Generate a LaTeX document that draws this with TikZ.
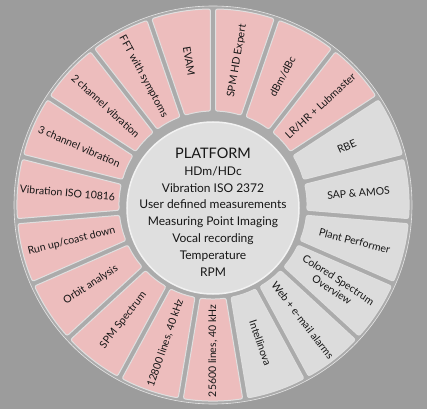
\documentclass[tikz,border=0pt]{standalone}
\usepackage{fontspec}
\setmainfont{Lato}
\usetikzlibrary{positioning}
\definecolor{wheelBg}{HTML}{9C9C9C}
\definecolor{wheelPink}{HTML}{EDBDBD}
\definecolor{wheelGrey}{HTML}{DCDCDC}
\definecolor{wheelGap}{HTML}{ABABAB}
\definecolor{wheelText}{HTML}{161616}

\begin{document}
\begin{tikzpicture}[x=1pt, y=1pt,
    seg/.style={draw=white!75!gray, line width=1pt, rounded corners=2pt},
    segtext/.style={font=\fontsize{10.5}{12}\selectfont, text=wheelText,
      align=center, inner sep=1pt},
    hub/.style={circle, draw=white!90!gray, line width=1.5pt, fill=wheelGrey!90!white,
      minimum size=172pt, inner sep=0pt},
    hubtext/.style={align=center, text=wheelText, font=\fontsize{12}{16.8}\selectfont}]
  \useasboundingbox[fill=wheelBg] (-213,-204) rectangle (214,205);
  % ring behind the segments
  \fill[wheelGap] (0,0) circle (199);
  \draw[white!80!gray, line width=0.6pt] (0,0) circle (199);
  \foreach \i/\txt/\col in {1/SPM HD Expert/wheelPink, 2/{dBm/dBc}/wheelPink,
      3/{LR/HR + Lubmaster}/wheelPink, 4/RBE/wheelGrey, 5/SAP \& AMOS/wheelGrey,
      6/Plant Performer/wheelGrey, 7/{Colored Spectrum\\Overview}/wheelGrey,
      8/Web + e-mail alarms/wheelGrey, 9/Intellinova/wheelGrey,
      10/{25600 lines, 40 kHz}/wheelPink, 11/{12800 lines, 40 kHz}/wheelPink,
      12/SPM Spectrum/wheelPink, 13/Orbit analysis/wheelPink,
      14/{Run up/coast down}/wheelPink, 15/Vibration ISO 10816/wheelPink,
      16/3 channel vibration/wheelPink, 17/2 channel vibration/wheelPink,
      18/FFT with symptoms/wheelPink, 19/EVAM/wheelPink}{
    \pgfmathsetmacro\oa{90-360/19*(\i-1)-0.75}
    \pgfmathsetmacro\ob{90-360/19*\i+0.75}
    \pgfmathsetmacro\ia{90-360/19*(\i-1)-1.55}
    \pgfmathsetmacro\ib{90-360/19*\i+1.55}
    \pgfmathsetmacro\m{90-360/19*(\i-0.5)}
    \pgfmathsetmacro\rot{\i<10 ? \m : \m+180}
    \path[seg, fill=\col] (\oa:196) arc[start angle=\oa, end angle=\ob, radius=196]
      -- (\ib:94) arc[start angle=\ib, end angle=\ia, radius=94] -- cycle;
    \node[segtext, rotate=\rot] (seg\i) at (\m:146) {\txt};
  }
  % centre
  \node[hub] (hub) at (0,-3) {};
  \node[hubtext] (hubtext) at (0,-7) {{\fontsize{14.5}{16.8}\selectfont PLATFORM}\\
    HDm/HDc\\Vibration ISO 2372\\User defined measurements\\
    Measuring Point Imaging\\Vocal recording\\Temperature\\RPM};
\end{tikzpicture}
\end{document}
